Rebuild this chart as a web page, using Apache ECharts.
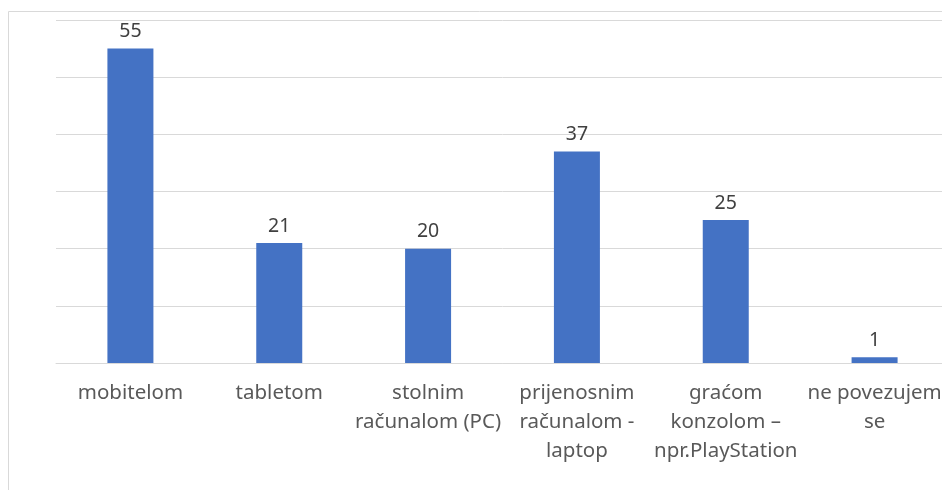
<!DOCTYPE html>
<html>
<head>
<meta charset="utf-8">
<script src="https://cdn.jsdelivr.net/npm/echarts@6/dist/echarts.min.js"></script>
<style>
  html, body { margin: 0; padding: 0; background: #fff; overflow: hidden; }
  /* plot runs a little past the right edge of the window, like the source */
  #chart { width: 950px; height: 490px; }
</style>
</head>
<body>
<div id="chart"></div>
<script>
const categories = [
  'mobitelom',
  'tabletom',
  'stolnim\nračunalom (PC)',
  'prijenosnim\nračunalom -\nlaptop',
  'graćom\nkonzolom –\nnpr.PlayStation',
  'ne povezujem\nse',
]
const values = [55, 21, 20, 37, 25, 1]

const fontFamily = '"Noto Sans", "Open Sans", sans-serif'

const chart = echarts.init(document.getElementById('chart'))
chart.setOption({
  animation: false,
  graphic: [
    {
      type: 'rect',
      shape: { x: 8.5, y: 11.5, width: 960, height: 500 },
      style: { fill: 'none', stroke: '#d9d9d9', lineWidth: 1 },
      silent: true,
    },
  ],
  grid: { left: 56, width: 893, top: 20, height: 343, containLabel: false },
  xAxis: {
    type: 'category',
    data: categories,
    axisLine: { show: true, lineStyle: { color: '#d9d9d9', width: 1 } },
    axisTick: { show: false },
    axisLabel: {
      interval: 0,
      color: '#595959',
      fontSize: 20.5,
      fontFamily,
      lineHeight: 29,
      margin: 16,
    },
  },
  yAxis: {
    type: 'value',
    min: 0,
    max: 60,
    interval: 10,
    axisLine: { show: false },
    axisTick: { show: false },
    axisLabel: { show: false },
    splitLine: { lineStyle: { color: '#d9d9d9', width: 1 } },
  },
  series: [
    {
      type: 'bar',
      data: values,
      barWidth: 46,
      itemStyle: { color: '#4472c4' },
      label: {
        show: true,
        position: 'top',
        distance: 7,
        color: '#404040',
        fontSize: 19.5,
        fontFamily,
      },
    },
  ],
})
</script>
</body>
</html>
